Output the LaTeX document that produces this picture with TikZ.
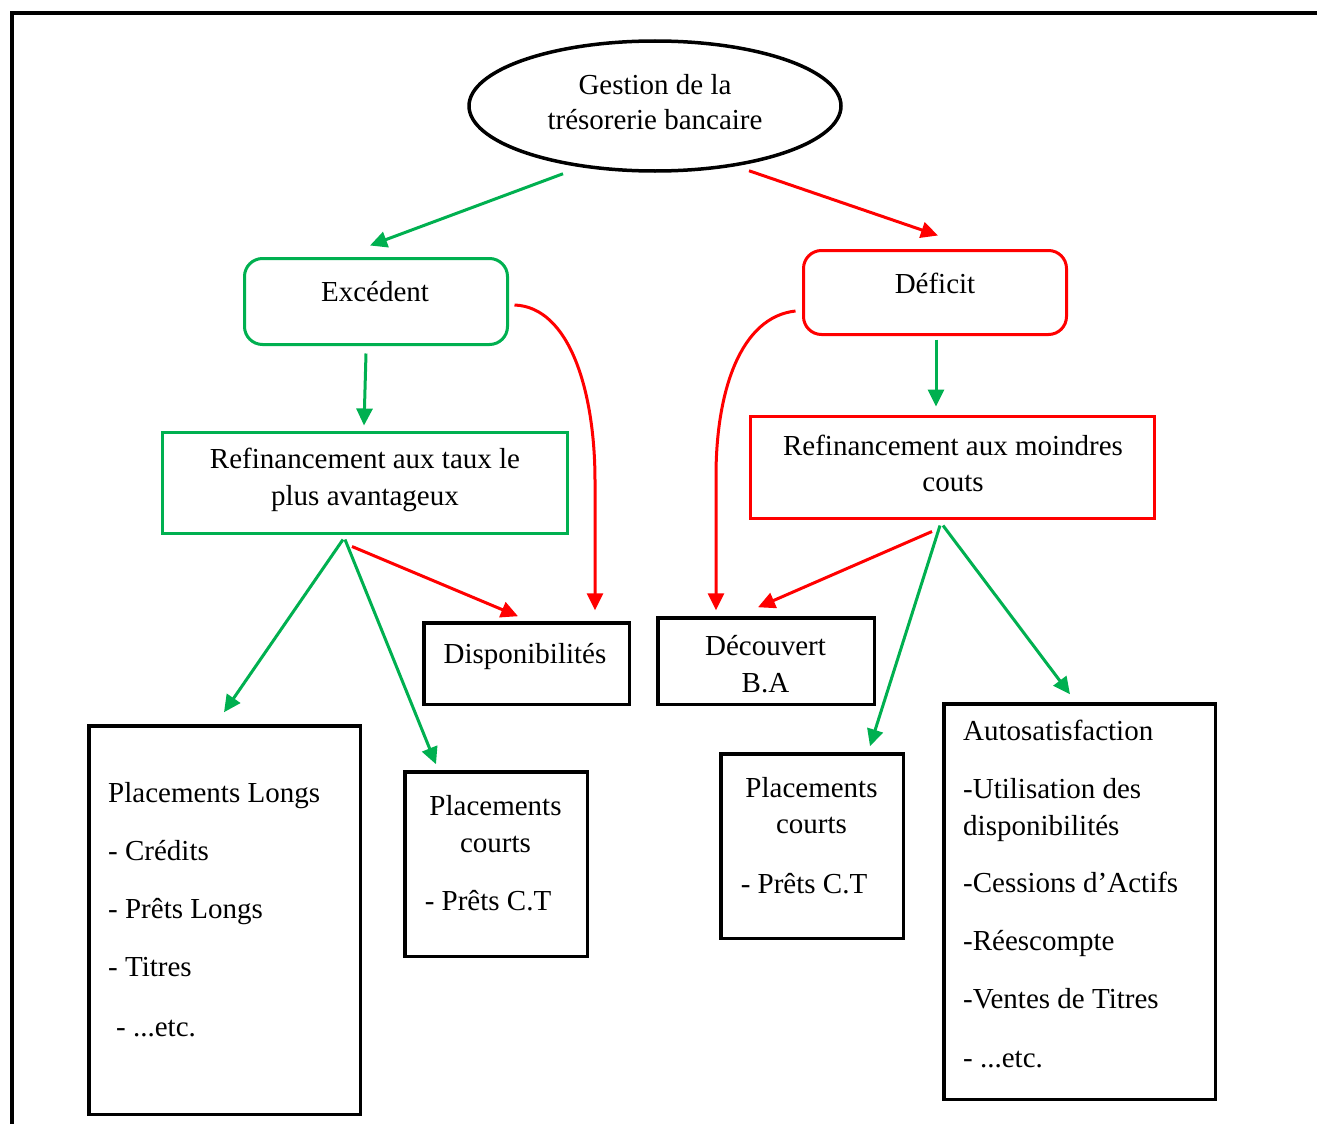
\documentclass[tikz,border=0pt]{standalone}
\usepackage{fontspec}
\setmainfont{Liberation Serif}
\usetikzlibrary{shapes.geometric,arrows.meta,calc}
\definecolor{okgreen}{RGB}{0,176,80}
\definecolor{alertred}{RGB}{255,0,0}

\begin{document}
\begin{tikzpicture}[x=1pt,y=-1pt,
  txt/.style={inner sep=0pt, font=\fontsize{29}{36}\selectfont},
  gbox/.style={draw=okgreen, line width=3pt, inner sep=0pt},
  rbox/.style={draw=alertred, line width=3pt, inner sep=0pt},
  kbox/.style={draw=black, line width=3.5pt, inner sep=0pt},
  tipstyle/.style={-{Triangle[length=17pt,width=16pt]}},
  garrow/.style={draw=okgreen, line width=3pt, tipstyle},
  rarrow/.style={draw=alertred, line width=3pt, tipstyle},
]
\useasboundingbox (0,0) rectangle (1317,1124);
\fill[white] (0,0) rectangle (1317,1124);

% page frame (open towards right and bottom)
\draw[line width=4pt] (11.5,1124) -- (11.5,13.5) -- (1317,13.5);

% ---------- boxes ----------
\node[ellipse, draw=black, line width=3.5pt, inner sep=0pt,
      minimum width=372pt, minimum height=130pt] (root) at (655,106) {};
\node[gbox, rounded corners=18pt, minimum width=263pt, minimum height=86pt] (exc) at (376,301.5) {};
\node[rbox, rounded corners=18pt, minimum width=263pt, minimum height=84pt] (def) at (935,292.5) {};
\node[gbox, minimum width=405pt, minimum height=101pt] (refL) at (365,483) {};
\node[rbox, minimum width=404pt, minimum height=102pt] (refR) at (952.5,467.5) {};
\node[kbox, minimum width=205.5pt, minimum height=81.5pt] (dispo) at (526.5,663.5) {};
\node[kbox, minimum width=216.5pt, minimum height=86.5pt] (decouv) at (766,661) {};
\node[kbox, minimum width=271.5pt, minimum height=388.5pt] (plong) at (224.5,920) {};
\node[kbox, minimum width=182.5pt, minimum height=184.5pt] (pcL) at (496,864) {};
\node[kbox, minimum width=182.5pt, minimum height=184.5pt] (pcR) at (812,846) {};
\node[kbox, minimum width=271.5pt, minimum height=395.5pt] (auto) at (1079.5,901.5) {};

% ---------- texts ----------
\node[txt, anchor=base] (troot) at (655,95)
  {\begin{tabular}[t]{@{}c@{}}Gestion de la\\[-1pt] trésorerie bancaire\end{tabular}};
\node[txt, anchor=base] (texc) at (375,301) {Excédent};
\node[txt, anchor=base] (tdef) at (935,293) {Déficit};
\node[txt, anchor=base] (trefL) at (365,468)
  {\begin{tabular}[t]{@{}c@{}}Refinancement aux taux le\\[1pt] plus avantageux\end{tabular}};
\node[txt, anchor=base] (trefR) at (953,455)
  {\begin{tabular}[t]{@{}c@{}}Refinancement aux moindres\\ couts\end{tabular}};
\node[txt, anchor=base] (tdispo) at (525,663) {Disponibilités};
\node[txt, anchor=base] (tdecouv) at (765.5,655)
  {\begin{tabular}[t]{@{}c@{}}Découvert\\[1pt] B.A\end{tabular}};
\node[txt, anchor=base west] (tplong) at (108,802)
  {\begin{tabular}[t]{@{}l@{}}Placements Longs\\[22pt] - Crédits\\[22pt] - Prêts Longs\\[22pt]
   - Titres\\[24pt] \hspace{8pt}- ...etc.\end{tabular}};
\node[txt, anchor=base] (tpcL) at (495.5,815)
  {\begin{tabular}[t]{@{}c@{}}Placements\\[1pt] courts\\[22pt] - Prêts C.T\kern15pt\end{tabular}};
\node[txt, anchor=base] (tpcR) at (811.5,797)
  {\begin{tabular}[t]{@{}c@{}}Placements\\ courts\\[24pt] - Prêts C.T\kern15pt\end{tabular}};
\node[txt, anchor=base west] (tauto) at (963,740)
  {\begin{tabular}[t]{@{}l@{}}Autosatisfaction\\[22pt] -Utilisation des\\[1pt] disponibilités\\[21pt]
   -Cessions d’Actifs\\[22pt] -Réescompte\\[22pt] -Ventes de Titres\\[23pt] - ...etc.\end{tabular}};

% ---------- connectors ----------
\draw[garrow] ($(root.south)+(-92,1)$) -- ($(exc.north)+(-6,-11.5)$);
\draw[rarrow] ($(root.south)+(94,-2)$) -- ($(def.north)+(3,-13.5)$);
\draw[garrow] ($(exc.south)+(-10,7.5)$) -- ($(refL.north)+(-1,-5.5)$);
\draw[rarrow] ($(exc.east)+(5.5,3.5)$) .. controls +(55,2) and +(0,-90) .. ($(dispo.north)+(68.5,-140)$)
  -- ($(dispo.north)+(68.5,-10.75)$);
\draw[garrow] ($(def.south)+(1,3.5)$) -- ($(refR.north)+(-16.5,-8.5)$);
\draw[rarrow] ($(def.west)+(-6.5,18.5)$) .. controls +(-55,6) and +(0,-85) .. ($(decouv.north)+(-50,-140)$)
  -- ($(decouv.north)+(-50,-5.75)$);
\draw[garrow] ($(refL.south)+(-22,4.5)$) -- ($(plong.north)+(-0.5,-11.75)$);
\draw[garrow] ($(refL.south)+(-20,4.5)$) -- ($(pcL.north)+(-60,-5.75)$);
\draw[rarrow] ($(refL.south)+(-13,11.5)$) -- ($(dispo.north)+(-8.5,-4.75)$);
\draw[rarrow] ($(refR.south)+(-20.5,11.5)$) -- ($(decouv.north)+(-8,-8.75)$);
\draw[garrow] ($(refR.south)+(-12.5,5.5)$) -- ($(pcR.north)+(58,-5.75)$);
\draw[garrow] ($(refR.south)+(-9.5,5.5)$) -- ($(auto.north)+(-9.5,-7.75)$);
\end{tikzpicture}
\end{document}
